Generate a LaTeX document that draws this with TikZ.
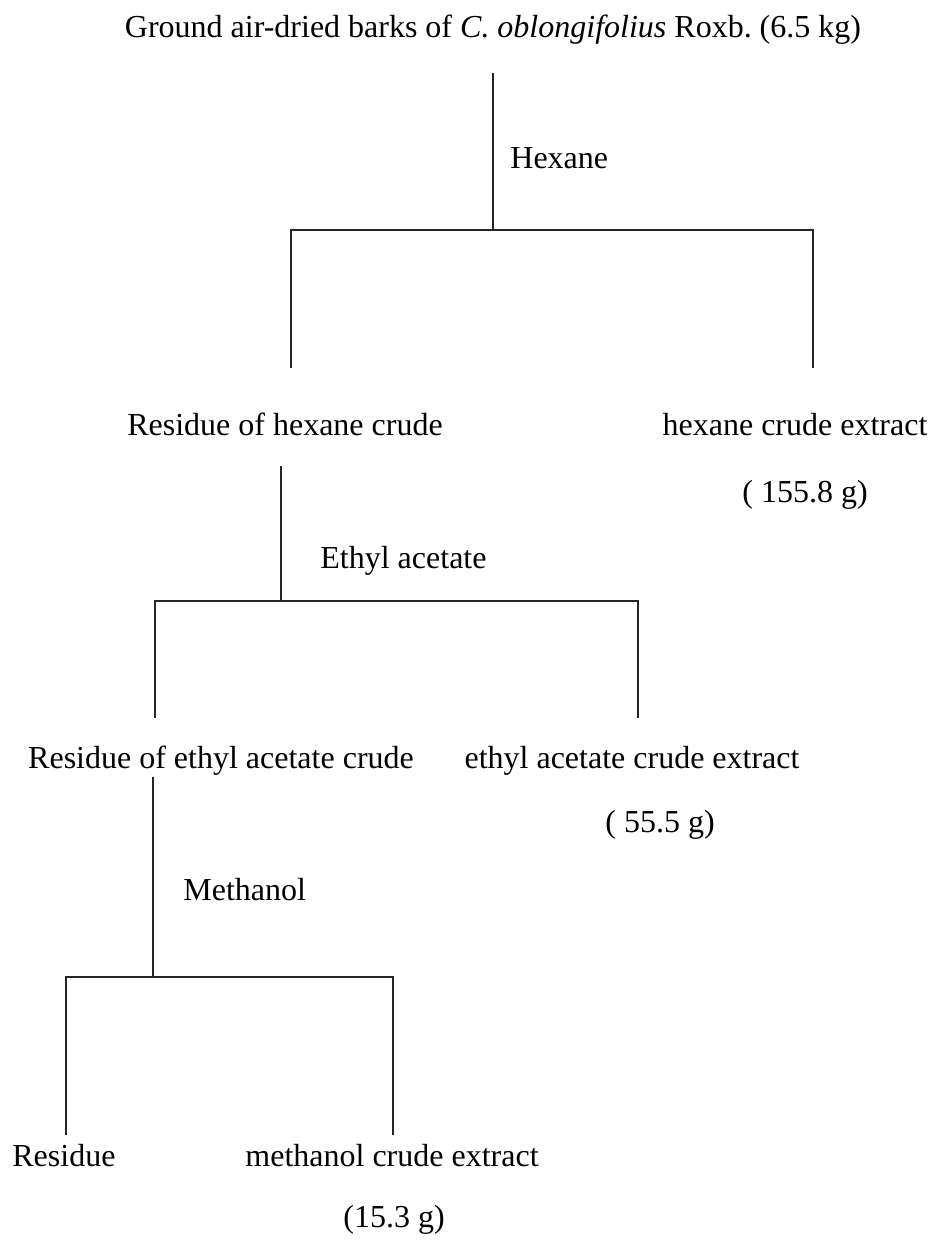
\documentclass[tikz,border=0pt]{standalone}
\usepackage{fontspec}
\setmainfont{Liberation Serif}
\frenchspacing
\tikzstyle{txt}=[inner sep=0pt, anchor=base, font=\fontsize{16}{19}\selectfont]
\tikzstyle{solvent}=[txt, anchor=base west]
\tikzstyle{link}=[line width=0.65pt, black!85]
\begin{document}
\begin{tikzpicture}[x=0.5pt,y=-0.5pt]
  \useasboundingbox (0,0) rectangle (932,1243);
  %% Starting material
  \draw (493,37) node[txt] (bark) {Ground air-dried barks of \textit{C. oblongifolius} Roxb. (6.5 kg)};

  %% Hexane step
  \draw (510,168) node[solvent] (hex) {Hexane};
  \draw (285,435) node[txt] (R1) {Residue of hexane crude};
  \draw (795,435) node[txt] (E1) {hexane crude extract};
  \draw (805,502) node[txt] (W1) {( 155.8 g)};
  \coordinate (S1) at (493,73);
  \coordinate (J1) at (493,230);
  \coordinate (L1) at (291,230);
  \coordinate (M1) at (813,230);
  \coordinate (R1t) at (291,368);
  \coordinate (E1t) at (813,368);
  \draw[link] (S1) -- (J1);
  \draw[link] (R1t) -- (L1) -- (M1) -- (E1t);

  %% Ethyl acetate step
  \draw (320,568) node[solvent] (eac) {Ethyl acetate};
  \draw (221,768) node[txt] (R2) {Residue of ethyl acetate crude};
  \draw (632,768) node[txt] (E2) {ethyl acetate crude extract};
  \draw (660,832) node[txt] (W2) {( 55.5 g)};
  \coordinate (S2) at (281,466);
  \coordinate (J2) at (281,601);
  \coordinate (L2) at (155,601);
  \coordinate (M2) at (638,601);
  \coordinate (R2t) at (155,718);
  \coordinate (E2t) at (638,718);
  \draw[link] (S2) -- (J2);
  \draw[link] (R2t) -- (L2) -- (M2) -- (E2t);

  %% Methanol step
  \draw (183,900) node[solvent] (met) {Methanol};
  \draw (12,1166) node[solvent] (R3) {Residue};
  \draw (392,1166) node[txt] (E3) {methanol crude extract};
  \draw (394,1227) node[txt] (W3) {(15.3 g)};
  \coordinate (S3) at (153,777);
  \coordinate (J3) at (153,977);
  \coordinate (L3) at (66,977);
  \coordinate (M3) at (393,977);
  \coordinate (R3t) at (66,1135);
  \coordinate (E3t) at (393,1135);
  \draw[link] (S3) -- (J3);
  \draw[link] (R3t) -- (L3) -- (M3) -- (E3t);
\end{tikzpicture}
\end{document}
